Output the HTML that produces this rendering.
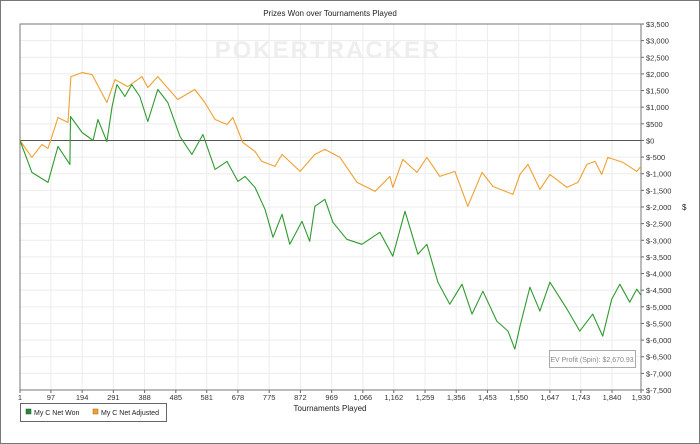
<!DOCTYPE html>
<html><head><meta charset="utf-8"><style>
body{margin:0;background:#fff;}
svg{display:block;font-family:"Liberation Sans",sans-serif;}
</style></head><body>
<svg id="c" width="700" height="444" xmlns="http://www.w3.org/2000/svg">
<rect x="0.5" y="0.5" width="699" height="443" fill="#fff" stroke="#777"/>
<text x="330" y="16" font-size="8" text-anchor="middle" fill="#222">Prizes Won over Tournaments Played</text>
<text x="328" y="58" font-size="24" font-weight="bold" text-anchor="middle" fill="#eee" letter-spacing="2">POKERTRACKER</text>
<g id="grid"></g><g id="axes"></g><g id="series"></g>
<text x="330" y="411" font-size="8" text-anchor="middle" fill="#222">Tournaments Played</text>
<text x="682" y="210" font-size="8" fill="#222">$</text>
<g>
<rect x="549.5" y="350.5" width="86" height="17" fill="#fff" stroke="#aaa"/>
<text x="592" y="362" font-size="7" text-anchor="middle" fill="#888">EV Profit (Spin): $2,670.93</text>
</g>
<g>
<rect x="20.5" y="403.5" width="146" height="18" fill="#fff" stroke="#666"/>
<rect x="26" y="409" width="5" height="5" fill="#2a8a2a" stroke="#155" stroke-width="0.5"/>
<text x="34" y="415" font-size="7" fill="#222">My C Net Won</text>
<rect x="93" y="409" width="5" height="5" fill="#f0a030" stroke="#a60" stroke-width="0.5"/>
<text x="101" y="415" font-size="7" fill="#222">My C Net Adjusted</text>
</g>
</svg>
<script>
const xTickLabels=[1,97,194,291,388,485,581,678,775,872,969,1066,1162,1259,1356,1453,1550,1647,1743,1840,1930];
const yTicks=[3500,3000,2500,2000,1500,1000,500,0,-500,-1000,-1500,-2000,-2500,-3000,-3500,-4000,-4500,-5000,-5500,-6000,-6500,-7000,-7500];
const wonT=[1,38,88,119,156,158,194,228,243,271,287,302,327,348,373,398,429,460,498,535,569,607,644,678,700,731,762,787,815,839,877,901,917,948,973,1016,1063,1119,1159,1197,1237,1265,1299,1336,1374,1405,1439,1482,1517,1538,1554,1585,1616,1647,1700,1740,1780,1811,1839,1864,1895,1917,1930];
const wonV=[0,-960,-1260,-180,-720,720,240,0,630,-30,1020,1680,1320,1680,1320,570,1530,1140,120,-420,180,-870,-630,-1230,-1080,-1410,-2070,-2910,-2220,-3120,-2430,-3030,-1980,-1770,-2460,-2970,-3120,-2760,-3480,-2130,-3420,-3120,-4260,-4920,-4320,-5220,-4530,-5430,-5730,-6270,-5580,-4410,-5130,-4260,-5070,-5730,-5220,-5880,-4770,-4320,-4860,-4470,-4650];
const adjT=[1,38,69,88,119,150,159,194,225,271,296,336,380,398,429,491,544,575,607,644,662,693,731,752,793,815,871,917,948,995,1048,1104,1150,1159,1190,1234,1265,1305,1352,1392,1436,1470,1532,1554,1579,1616,1647,1700,1734,1762,1787,1808,1827,1874,1917,1930];
const adjV=[0,-510,-120,-240,690,540,1920,2040,1980,1140,1830,1620,1920,1590,1920,1230,1530,1140,630,480,690,-60,-330,-630,-780,-420,-930,-420,-270,-510,-1260,-1530,-1080,-1410,-570,-960,-510,-1080,-930,-1980,-960,-1380,-1620,-1020,-720,-1470,-1020,-1410,-1260,-720,-630,-1020,-510,-660,-930,-780];
const L=20,R=641,T=24,B=390;
function xs(t){return L+(t-1)/(1930-1)*(R-L);}
function ys(v){return T+(3500-v)/11000*(B-T);}
const NS="http://www.w3.org/2000/svg";
function mk(tag,attrs,parent){const e=document.createElementNS(NS,tag);for(const k in attrs)e.setAttribute(k,attrs[k]);parent.appendChild(e);return e;}
const grid=document.getElementById('grid'),axes=document.getElementById('axes'),ser=document.getElementById('series');
function fmt(v){const a=Math.abs(v).toLocaleString('en-US');return v<0?'$-'+a:'$'+a;}
yTicks.forEach(v=>{const y=ys(v);
 const g=mk('line',{x1:L,x2:R,y1:y,y2:y,stroke:'#ececec','stroke-width':1},grid);
 
 
 mk('line',{x1:R,x2:R+3,y1:y,y2:y,stroke:'#666'},axes);
 const t=mk('text',{x:R+5,y:y+3,'font-size':7.5,fill:'#333'},axes);t.textContent=fmt(v);
 
 
});
xTickLabels.forEach(v=>{const x=xs(v);
 const g=mk('line',{x1:x,x2:x,y1:T,y2:B,stroke:'#ececec'},grid);
 
 
 mk('line',{x1:x,x2:x,y1:B,y2:B+3,stroke:'#666'},axes);
 const t=mk('text',{x:x,y:B+10,'font-size':7.5,fill:'#333','text-anchor':'middle'},axes);t.textContent=v.toLocaleString('en-US');
 
 
});
mk('rect',{x:L,y:T,width:R-L,height:B-T,fill:'none',stroke:'#777','stroke-width':1},axes);
const z=mk('line',{x1:L,x2:R,y1:ys(0),y2:ys(0),stroke:'#555','stroke-width':1},axes);


function line(ts,vs,col,name){const d=ts.map((t,i)=>(i?'L':'M')+xs(t).toFixed(1)+','+ys(vs[i]).toFixed(1)).join('');
 const p=mk('path',{d:d,fill:'none',stroke:col,'stroke-width':1.1,'stroke-linejoin':'round'},ser);
 
 }
line(adjT,adjV,'#f0a030','net-adjusted-line');
line(wonT,wonV,'#2f9a2f','net-won-line');
</script>
</body></html>
